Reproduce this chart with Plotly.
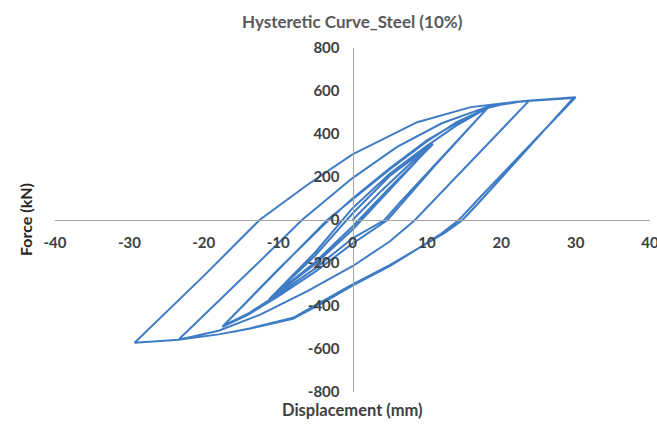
import plotly.graph_objects as go

# ---- data (displacement in mm, force in kN) ----
# initial loading to +11 mm
load0_d = [0, 4, 8, 10.8]
load0_f = [0, 140, 270, 352]
# +/-11 mm cycles
c11a_d = [5, 0, -5, -11, -5, 0, 5, 10.8]
c11a_f = [150, -30, -195, -362, -165, 30, 205, 355]
c11b_d = [5, 0, -5, -11.2]
c11b_f = [140, -45, -205, -368]
# loading to +18 mm
load18_d = [-5, 0, 5, 10, 14, 18.2]
load18_f = [-150, 55, 215, 345, 440, 523]
# +/-18 mm cycles
c18a_d = [11, 6.5, 4.7, 0, -5, -10, -14, -17.5, -10, -3.4, 0, 5, 10, 14, 18.2]
c18a_f = [250, 70, 0, -110, -240, -355, -440, -497, -235, 0, 95, 235, 365, 455, 522]
c18b_d = [11, 6.2, 4.3, 0, -5, -10, -14, -17.4, -10, -3.2, 0, 5, 10, 15, 18, 21, 23.7]
c18b_f = [255, 75, 0, -85, -225, -345, -435, -493, -230, 0, 100, 240, 370, 470, 520, 545, 553]
# +/-24 mm cycle
c24_d = [11, 8.4, 5, 0, -6, -12.4, -18, -23.4, -12.4, -6.8, 0, 6, 12, 18, 23, 30]
c24_f = [90, 0, -100, -215, -330, -440, -515, -557, -190, 0, 195, 340, 450, 525, 553, 571]
# +/-30 mm cycles
c30a_d = [17, 14.3, 12, 9.6, 5, 0, -4, -8, -13.7, -18, -23.4, -29.3,
          -20, -12.5, -6, 0, 8.7, 15.9, 22, 29.7]
c30a_f = [100, 0, -62, -116, -215, -305, -385, -460, -505, -532, -557, -571,
          -260, 0, 165, 305, 455, 525, 550, 568]
c30b_d = [17.5, 14.8, 12.5, 10, 5, 0, -4, -8, -13.7, -16]
c30b_f = [100, 0, -58, -110, -210, -300, -378, -455, -503, -520]

disp = load0_d + c11a_d + c11b_d + load18_d + c18a_d + c18b_d + c24_d + c30a_d + c30b_d
force = load0_f + c11a_f + c11b_f + load18_f + c18a_f + c18b_f + c24_f + c30a_f + c30b_f

x_ticks = [-40, -30, -20, -10, 0, 10, 20, 30, 40]
y_ticks = [-800, -600, -400, -200, 0, 200, 400, 600, 800]

title_text = "Hysteretic Curve_Steel (10%)"
x_title = "Displacement (mm)"
y_title = "Force (kN)"

fig = go.Figure(
    go.Scatter(x=disp, y=force, mode="lines",
               line=dict(color="#3f7cc6", width=2), hoverinfo="skip")
)

tick_font = dict(family="Lato", size=15, color="#404040", weight="bold")

fig.update_layout(
    width=657, height=431,
    margin=dict(l=55, r=7, t=48, b=39, autoexpand=False),
    paper_bgcolor="white", plot_bgcolor="white",
    showlegend=False,
    xaxis=dict(range=[-40, 40], tickvals=x_ticks, ticktext=[str(v) for v in x_ticks],
               showgrid=False, zeroline=False, showline=True,
               linecolor="#a6a6a6", linewidth=1, ticks="",
               anchor="free", position=0.5, tickfont=tick_font,
               ticklabelstandoff=9, ticklabeloverflow="allow", automargin=False),
    yaxis=dict(range=[-800, 800], tickvals=y_ticks, ticktext=[str(v) for v in y_ticks],
               showgrid=False, zeroline=False, showline=True,
               linecolor="#a6a6a6", linewidth=1, ticks="",
               anchor="free", position=0.5, tickfont=tick_font,
               ticklabelstandoff=10, ticklabeloverflow="allow", automargin=False),
    annotations=[
        dict(text=title_text, xref="paper", yref="paper", x=0.5, y=1.0756,
             xanchor="center", yanchor="middle", showarrow=False,
             font=dict(family="Lato", size=17, color="#595959", weight="bold")),
        dict(text=x_title, xref="paper", yref="paper", x=0.5, y=-0.0523,
             xanchor="center", yanchor="middle", showarrow=False,
             font=dict(family="Lato", size=16.5, color="#404040", weight="bold")),
        dict(text=y_title, xref="paper", yref="paper", x=-0.0504, y=0.5,
             xanchor="center", yanchor="middle", showarrow=False, textangle=-90,
             font=dict(family="Lato", size=16, color="#262626", weight="bold")),
    ],
)

fig.write_html("out.html")
